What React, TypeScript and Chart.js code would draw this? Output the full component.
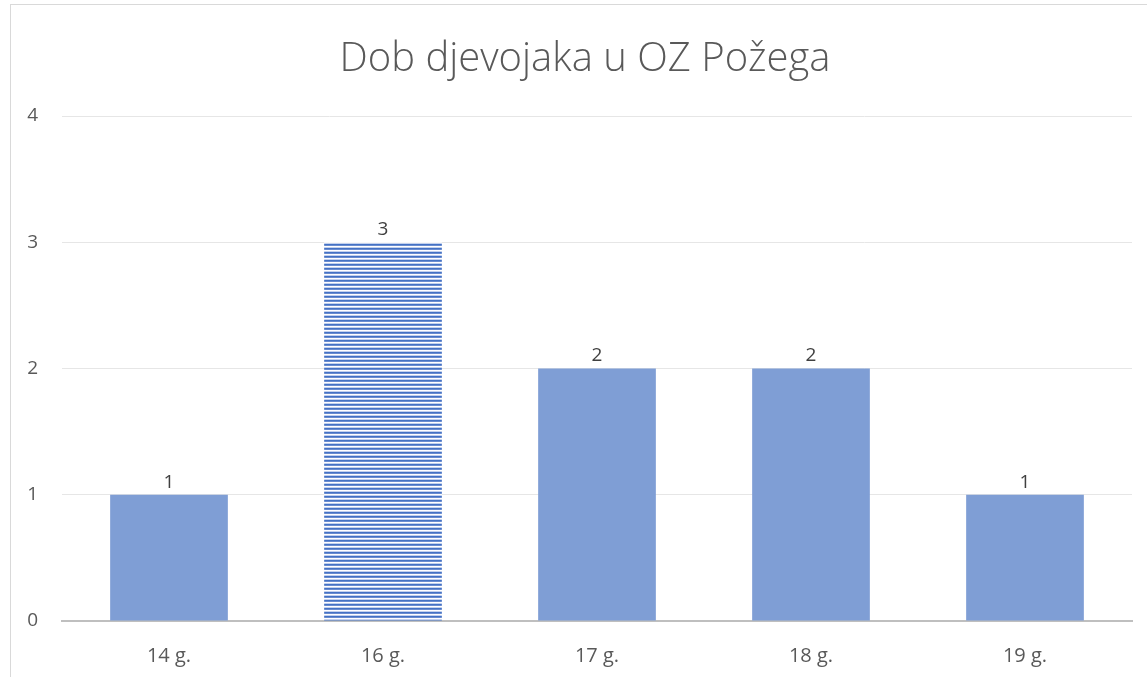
import React, { useEffect, useRef } from "react";
import { Chart, registerables } from "chart.js";
Chart.register(...registerables);

const categories = ["14 g.", "16 g.", "17 g.", "18 g.", "19 g."];
const values = [1, 3, 2, 2, 1];
const patternedIndex = [1];
const yTicks = [0, 1, 2, 3, 4];
const titleText = "Dob djevojaka u OZ Požega";

function makePattern(): CanvasPattern | string {
  const c = document.createElement("canvas");
  c.width = 4;
  c.height = 4;
  const ctx = c.getContext("2d");
  if (!ctx) return "#4472C4";
  ctx.fillStyle = "#ffffff";
  ctx.fillRect(0, 0, 4, 4);
  ctx.fillStyle = "#4472C4";
  ctx.fillRect(0, 0, 4, 1);
  ctx.fillStyle = "#6a8cd0";
  ctx.fillRect(0, 1, 4, 1);
  ctx.fillStyle = "#ffffff";
  ctx.fillRect(0, 2, 4, 1);
  ctx.fillStyle = "#c3d1ee";
  ctx.fillRect(0, 3, 4, 1);
  return ctx.createPattern(c, "repeat") || "#4472C4";
}

export default function App() {
  const ref = useRef<HTMLCanvasElement>(null);
  useEffect(() => {
    if (!ref.current) return;
    const pattern = makePattern();
    const colors = values.map((_, i) => (patternedIndex.includes(i) ? pattern : "#7F9ED5"));
    const borderPlugin = {
      id: "outerBorder",
      beforeDraw(chart: any) {
        const ctx = chart.ctx;
        ctx.save();
        ctx.strokeStyle = "#d9d9d9";
        ctx.lineWidth = 1;
        ctx.strokeRect(10.5, 4.5, 1300, 800);
        ctx.fillStyle = "#595959";
        ctx.font = "300 40px 'Open Sans'";
        ctx.textAlign = "center";
        ctx.textBaseline = "middle";
        ctx.fillText(titleText, 585, 60);
        ctx.restore();
      },
    };
    const labelPlugin = {
      id: "valueLabels",
      afterDatasetsDraw(chart: any) {
        const ctx = chart.ctx;
        const meta = chart.getDatasetMeta(0);
        ctx.save();
        ctx.fillStyle = "#404040";
        ctx.font = "19px 'Open Sans'";
        ctx.textAlign = "center";
        ctx.textBaseline = "bottom";
        meta.data.forEach((bar: any, i: number) => {
          ctx.fillText(String(values[i]), bar.x, bar.y - 3);
        });
        ctx.restore();
      },
    };
    const chart = new Chart(ref.current, {
      type: "bar",
      data: {
        labels: categories,
        datasets: [
          {
            data: values,
            backgroundColor: colors as any,
            categoryPercentage: 0.55,
            barPercentage: 1,
          },
        ],
      },
      options: {
        animation: false,
        responsive: false,
        maintainAspectRatio: false,
        layout: { padding: { left: 0, right: 15, top: 116, bottom: 0 } },
        plugins: {
          legend: { display: false },
          tooltip: { enabled: false },
          title: { display: false },
        },
        scales: {
          x: {
            grid: { display: false },
            border: { display: true, color: "#bfbfbf", width: 2 },
            ticks: {
              color: "#595959",
              font: { family: "'Open Sans'", size: 20 },
              padding: 15,
            },
            afterFit(axis: any) {
              axis.height = 56;
            },
          },
          y: {
            min: 0,
            max: 4,
            afterBuildTicks(axis: any) {
              axis.ticks = yTicks.map((v) => ({ value: v }));
            },
            grid: {
              color: (ctx: any) => (ctx.tick && ctx.tick.value === 0 ? "rgba(0,0,0,0)" : "#e6e6e6"),
              lineWidth: 1,
              drawTicks: false,
            },
            border: { display: false },
            ticks: {
              color: "#595959",
              font: { family: "'Open Sans'", size: 19 },
              padding: 24,
            },
            afterFit(axis: any) {
              axis.width = 62;
            },
          },
        },
      },
      plugins: [borderPlugin, labelPlugin],
    });
    return () => chart.destroy();
  }, []);
  return (
    <div style={{ position: "fixed", left: 0, top: 0, width: 1147, height: 677, background: "#fff" }}>
      <canvas ref={ref} width={1147} height={677} style={{ display: "block" }} />
    </div>
  );
}
